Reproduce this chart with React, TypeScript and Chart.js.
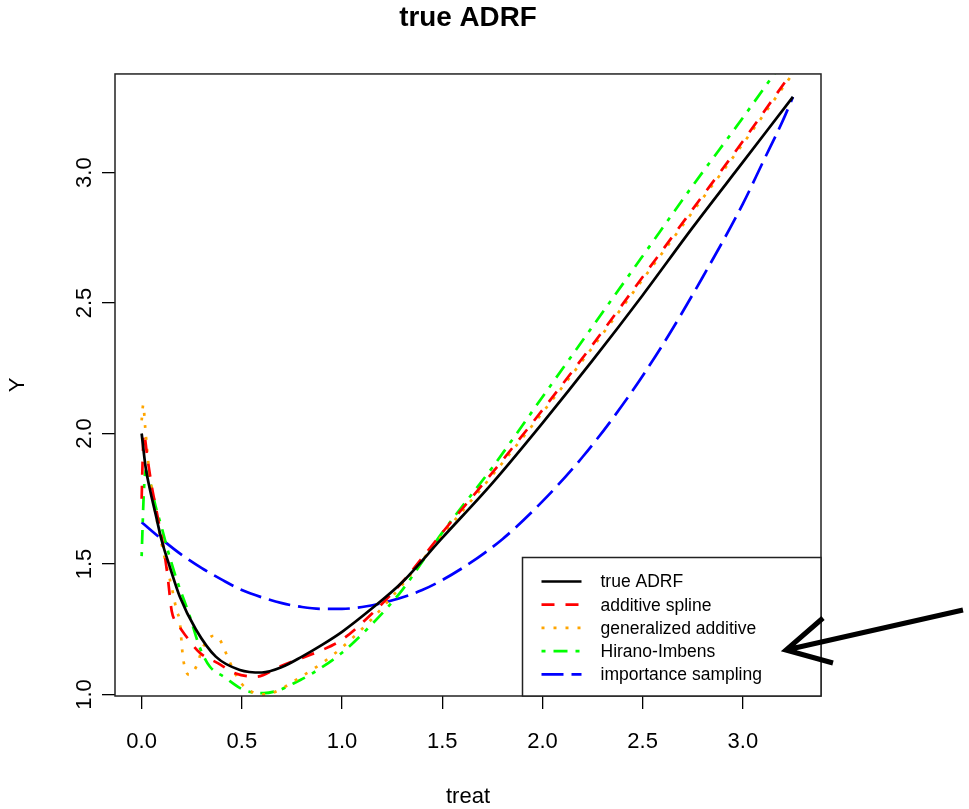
import React, { useEffect, useRef } from 'react';
import { Chart, registerables } from 'chart.js';

Chart.register(...registerables);

const FONT = "'Liberation Sans', Arial, Helvetica, sans-serif";

const chartTitle = 'true ADRF';
const xLabel = 'treat';
const yLabel = 'Y';

const xTicks = [0, 0.5, 1.0, 1.5, 2.0, 2.5, 3.0];
const yTicks = [1.0, 1.5, 2.0, 2.5, 3.0];

const seriesLabels = ['true ADRF', 'additive spline', 'generalized additive', 'Hirano-Imbens', 'importance sampling'];

// true ADRF (black, solid)
const trueX = [0, 0.02, 0.04, 0.07, 0.1, 0.14, 0.19, 0.27, 0.37, 0.49, 0.6, 0.7, 0.8, 0.9, 1.0, 1.15, 1.3, 1.5, 1.75, 2.0, 2.25, 2.5, 2.75, 3.0, 3.25];
const trueY = [2.0, 1.87, 1.79, 1.69, 1.59, 1.49, 1.375, 1.25, 1.145, 1.094, 1.084, 1.105, 1.145, 1.19, 1.24, 1.33, 1.43, 1.6, 1.81, 2.04, 2.28, 2.53, 2.79, 3.04, 3.29];

// additive spline (red, dashed)
const splineX = [0, 0.005, 0.01, 0.03, 0.05, 0.07, 0.09, 0.11, 0.13, 0.15, 0.18, 0.22, 0.29, 0.38, 0.47, 0.57, 0.69, 0.8, 0.9, 1.0, 1.15, 1.3, 1.5, 1.75, 2.0, 2.25, 2.5, 2.75, 3.0, 3.25];
const splineY = [1.75, 1.9, 2.0, 1.9, 1.8, 1.72, 1.64, 1.56, 1.45, 1.32, 1.27, 1.225, 1.16, 1.12, 1.08, 1.068, 1.107, 1.14, 1.17, 1.21, 1.31, 1.43, 1.62, 1.85, 2.09, 2.34, 2.6, 2.86, 3.12, 3.39];

// generalized additive (orange, dotted)
const gamX = [0, 0.008, 0.017, 0.033, 0.058, 0.083, 0.116, 0.15, 0.175, 0.19, 0.205, 0.22, 0.24, 0.26, 0.28, 0.3, 0.33, 0.36, 0.39, 0.42, 0.46, 0.5, 0.55, 0.6, 0.65, 0.8, 0.9, 1.0, 1.15, 1.3, 1.5, 1.75, 2.0, 2.25, 2.5, 2.75, 3.0, 3.25];
const gamY = [2.05, 2.11, 2.03, 1.89, 1.745, 1.64, 1.52, 1.41, 1.32, 1.28, 1.15, 1.09, 1.075, 1.09, 1.12, 1.17, 1.21, 1.225, 1.21, 1.16, 1.09, 1.04, 1.01, 1.0, 1.005, 1.07, 1.12, 1.18, 1.29, 1.42, 1.61, 1.84, 2.08, 2.33, 2.59, 2.85, 3.11, 3.38];

// Hirano-Imbens (green, dot-dash)
const hiX = [0, 0.005, 0.01, 0.02, 0.04, 0.07, 0.1, 0.125, 0.175, 0.24, 0.29, 0.34, 0.41, 0.51, 0.61, 0.68, 0.76, 0.85, 1.0, 1.15, 1.3, 1.5, 1.75, 2.0, 2.25, 2.5, 2.75, 3.0, 3.25];
const hiY = [1.53, 1.65, 1.76, 1.86, 1.82, 1.72, 1.64, 1.567, 1.44, 1.3, 1.18, 1.107, 1.068, 1.017, 1.005, 1.015, 1.043, 1.08, 1.16, 1.27, 1.4, 1.62, 1.87, 2.14, 2.41, 2.68, 2.95, 3.21, 3.48];

// importance sampling (blue, long dash)
const isX = [0, 0.1, 0.2, 0.3, 0.4, 0.5, 0.6, 0.7, 0.8, 0.9, 1.0, 1.1, 1.2, 1.4, 1.6, 1.8, 2.0, 2.2, 2.4, 2.6, 2.8, 3.0, 3.1, 3.2, 3.25];
const isY = [1.66, 1.595, 1.535, 1.484, 1.44, 1.4, 1.372, 1.35, 1.335, 1.328, 1.328, 1.335, 1.35, 1.4, 1.484, 1.595, 1.74, 1.91, 2.11, 2.34, 2.6, 2.88, 3.04, 3.2, 3.29];

const xMin = -0.133;
const xMax = 3.39;
const yMin = 0.994;
const yMax = 3.378;

function pts(xs: number[], ys: number[]) {
  return xs.map((x, i) => ({ x, y: ys[i] }));
}

const overlayPlugin = {
  id: 'overlay',
  afterDatasetsDraw(chart: any) {
    const { ctx, chartArea: a } = chart;
    ctx.save();
    // plot frame
    ctx.strokeStyle = '#222';
    ctx.lineWidth = 1.5;
    ctx.setLineDash([]);
    ctx.strokeRect(a.left, a.top, a.right - a.left, a.bottom - a.top);

    // legend (bottom-right)
    const w = 298.5;
    const h = 138.5;
    const L = a.right - w;
    const T = a.bottom - h;
    ctx.fillStyle = '#fff';
    ctx.fillRect(L, T, w, h);
    ctx.strokeRect(L, T, w, h);
    chart.data.datasets.forEach((ds: any, i: number) => {
      const y = T + 24 + i * 23.2;
      ctx.beginPath();
      ctx.setLineDash(ds.borderDash || []);
      ctx.strokeStyle = ds.borderColor;
      ctx.lineWidth = ds.borderWidth;
      ctx.lineCap = 'butt';
      ctx.moveTo(L + 19, y);
      ctx.lineTo(L + 59, y);
      ctx.stroke();
      ctx.setLineDash([]);
      ctx.fillStyle = '#000';
      ctx.font = `17.5px ${FONT}`;
      ctx.textBaseline = 'middle';
      ctx.textAlign = 'left';
      ctx.fillText(ds.label, L + 78, y + 1);
    });
    ctx.restore();
  },
  afterDraw(chart: any) {
    const { ctx } = chart;
    ctx.save();
    // pointer arrow annotation
    ctx.strokeStyle = '#000';
    ctx.lineWidth = 5;
    ctx.lineCap = 'butt';
    ctx.setLineDash([]);
    ctx.beginPath();
    ctx.moveTo(963, 610);
    ctx.lineTo(786, 650);
    ctx.moveTo(823, 618);
    ctx.lineTo(786, 650);
    ctx.lineTo(833, 663);
    ctx.stroke();
    ctx.restore();
  },
};

export default function App() {
  const ref = useRef<HTMLCanvasElement | null>(null);

  useEffect(() => {
    document.body.style.margin = '0';
    const canvas = ref.current;
    if (!canvas) return;
    Chart.defaults.font.family = FONT;
    Chart.defaults.color = '#000';

    const mk = (label: string, xs: number[], ys: number[], color: string, dash: number[], width: number) => ({
      label,
      data: pts(xs, ys),
      borderColor: color,
      backgroundColor: color,
      borderWidth: width,
      borderDash: dash,
      pointRadius: 0,
      fill: false,
      cubicInterpolationMode: 'monotone' as const,
      clip: 0,
    });

    const chart = new Chart(canvas, {
      type: 'line',
      data: {
        datasets: [
          mk(seriesLabels[0], trueX, trueY, '#000000', [], 2.7),
          mk(seriesLabels[1], splineX, splineY, '#FF0000', [13, 11], 2.7),
          mk(seriesLabels[2], gamX, gamY, '#FFA500', [3, 9], 2.7),
          mk(seriesLabels[3], hiX, hiY, '#00FF00', [4, 8, 14, 8], 2.7),
          mk(seriesLabels[4], isX, isY, '#0000FF', [22, 8], 2.7),
        ],
      },
      options: {
        animation: false,
        responsive: false,
        devicePixelRatio: 1,
        layout: { padding: { left: 0, right: 148, top: 0, bottom: 0 } },
        plugins: {
          legend: { display: false },
          tooltip: { enabled: false },
          title: {
            display: true,
            fullSize: false,
            text: chartTitle,
            color: '#000',
            font: { size: 27.8, weight: 'bold', family: FONT },
            padding: { top: 2, bottom: 38.6 },
          },
        },
        scales: {
          x: {
            type: 'linear',
            min: xMin,
            max: xMax,
            afterBuildTicks: (s: any) => {
              s.ticks = xTicks.map((v) => ({ value: v }));
            },
            afterFit: (s: any) => {
              s.height = 113;
            },
            grid: { drawOnChartArea: false, drawTicks: true, tickLength: 13, color: '#000', lineWidth: 1.3 },
            border: { display: false },
            ticks: {
              autoSkip: false,
              maxRotation: 0,
              minRotation: 0,
              padding: 20,
              color: '#000',
              font: { size: 22, family: FONT },
              callback: (v: any) => Number(v).toFixed(1),
            },
            title: {
              display: true,
              text: xLabel,
              color: '#000',
              font: { size: 22, family: FONT },
              padding: { top: 0, bottom: -1 },
            },
          },
          y: {
            type: 'linear',
            min: yMin,
            max: yMax,
            afterBuildTicks: (s: any) => {
              s.ticks = yTicks.map((v) => ({ value: v }));
            },
            afterFit: (s: any) => {
              s.width = 115;
            },
            grid: { drawOnChartArea: false, drawTicks: true, tickLength: 13, color: '#000', lineWidth: 1.3 },
            border: { display: false },
            ticks: {
              autoSkip: false,
              minRotation: 90,
              maxRotation: 90,
              crossAlign: 'center',
              padding: 2,
              color: '#000',
              font: { size: 22, family: FONT },
              callback: (v: any) => Number(v).toFixed(1),
            },
            title: {
              display: true,
              text: yLabel,
              color: '#000',
              font: { size: 22, family: FONT },
              padding: { top: 5, bottom: 0 },
            },
          },
        },
      },
      plugins: [overlayPlugin],
    } as any);

    return () => {
      chart.destroy();
    };
  }, []);

  return (
    <div style={{ width: 969, height: 809, position: 'relative' }}>
      <canvas ref={ref} width={969} height={809} style={{ position: 'absolute', left: 0, top: 0 }} />
    </div>
  );
}
